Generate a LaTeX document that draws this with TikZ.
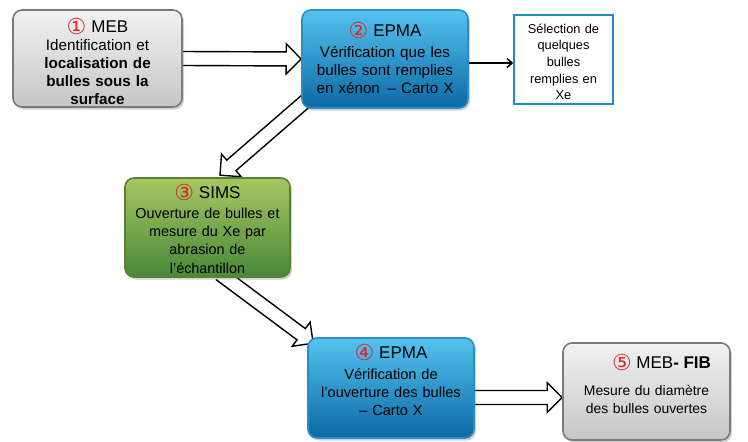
\documentclass[tikz,border=0pt]{standalone}
\usepackage{fontspec}
\setmainfont{Liberation Sans}
\newfontfamily\symfont{DejaVu Sans}
\usetikzlibrary{shadows,calc,arrows.meta}
\pgfdeclarelayer{background}
\pgfsetlayers{background,main}

\definecolor{grayTop}{HTML}{F2F2F2}
\definecolor{grayBot}{HTML}{C6C6C6}
\definecolor{grayBorder}{HTML}{7A7A7A}
\definecolor{blueTop}{HTML}{55C3F0}
\definecolor{blueBot}{HTML}{0B68A4}
\definecolor{blueBorder}{HTML}{2E8CC4}
\definecolor{greenTop}{HTML}{A6C762}
\definecolor{greenBot}{HTML}{478839}
\definecolor{greenBorder}{HTML}{5E7F30}
\definecolor{numRed}{HTML}{E0282A}
\definecolor{selBorder}{HTML}{1F8EC6}

\newcommand\cnum[1]{\smash{\raisebox{-2pt}{\fontsize{22}{22}\symfont\color{numRed}#1}}}
\newcommand\ttl[1]{{\fontsize{17}{18}\selectfont #1}}

\tikzset{
  box/.style={rounded corners=9pt, line width=1.6pt, align=center, inner sep=2pt,
    font=\fontsize{15.2}{18}\selectfont,
    drop shadow={shadow xshift=2pt,shadow yshift=-2.5pt,opacity=0.35}},
  graybox/.style={box, draw=grayBorder, top color=grayTop, bottom color=grayBot},
  bluebox/.style={box, draw=blueBorder, top color=blueTop, bottom color=blueBot},
  greenbox/.style={box, draw=greenBorder, top color=greenTop, bottom color=greenBot},
  selbox/.style={draw=selBorder, line width=1.6pt, fill=white, align=center,
    font=\fontsize{12.8}{16.7}\selectfont, inner sep=2pt},
  harrowline/.style={draw=black, line width=1.4pt, fill=white, line join=miter},
  thinarrow/.style={line width=1.6pt, -{Straight Barb[length=5pt,width=9pt]}}
}

% hollow block arrow from #1 to #2, #3 = name of head-base coordinate
\newcommand\harrow[3]{%
  \coordinate (#3) at ($(#2)!15pt!(#1)$);
  \path[harrowline]
    ($(#1)!7pt!90:(#2)$) -- ($(#3)!7pt!90:(#2)$) -- ($(#3)!15pt!90:(#2)$)
    -- (#2) -- ($(#3)!15pt!-90:(#2)$) -- ($(#3)!7pt!-90:(#2)$) -- ($(#1)!7pt!-90:(#2)$);
}

\begin{document}
\begin{tikzpicture}[x=1pt,y=-1pt]
\useasboundingbox (0,0) rectangle (748,442);

\node[graybox, minimum width=169pt, minimum height=97pt, text width=160pt] (b1) at (97.5,58.5)
  {\rule{0pt}{20pt}\ttl{\cnum{①} MEB}\\Identification et\\\textbf{localisation de}\\\textbf{bulles sous la}\\\textbf{surface}};

\node[bluebox, minimum width=166pt, minimum height=98pt, text width=160pt] (b2) at (385,59)
  {\ttl{\cnum{②} EPMA}\\[3pt]Vérification que les\\bulles sont remplies\\en xénon \,– Carto X};

\node[selbox, minimum width=99pt, minimum height=89pt, text width=94pt] (b3) at (563.5,59.5)
  {\rule{0pt}{14pt}Sélection de\\quelques\\bulles\\remplies en\\Xe};

\node[greenbox, minimum width=165pt, minimum height=99pt, text width=160pt,
      font=\fontsize{14.4}{18.3}\selectfont] (s) at (207.5,227.5)
  {\rule{0pt}{17pt}\ttl{\cnum{③} SIMS}\\[1pt]Ouverture de bulles et\\mesure du Xe par\\abrasion de\\l’échantillon};

\node[bluebox, minimum width=166pt, minimum height=100pt, text width=160pt,
      font=\fontsize{14.6}{18}\selectfont] (b4) at (391,388)
  {\ttl{\cnum{④} EPMA}\\[3pt]Vérification de\\l’ouverture des bulles\\– Carto X\rule[-14pt]{0pt}{0pt}};

\node[graybox, minimum width=167pt, minimum height=97pt, text width=160pt,
      font=\fontsize{13.9}{18}\selectfont] (b5) at (646.5,391.5)
  {\hspace*{30pt}\ttl{\cnum{⑤} MEB\textbf{- FIB}}\\[9pt]Mesure du diamètre\\des bulles ouvertes\rule[-12pt]{0pt}{0pt}};

\coordinate (a2s) at ($(b2.south west)+(7,-10)$);
\coordinate (a2e) at ($(s.north)+(12.5,-2)$);
\coordinate (a3s) at ($(s.south)+(12.5,-4)$);
\coordinate (a3e) at ($(b4.north west)+(6,6)$);
\coordinate (a4s) at ($(b4.east)+(-2,9.5)$);
\coordinate (a4e) at ($(b5.west)+(0,6)$);
\coordinate (t2s) at ($(b2.east)+(0,4)$);

\begin{pgfonlayer}{background}
  \harrow{b1.east}{b2.west}{h1}
  \harrow{a2s}{a2e}{h2}
  \harrow{a3s}{a3e}{h3}
  \harrow{a4s}{a4e}{h4}
\end{pgfonlayer}

\draw[thinarrow] (t2s) -- (t2s -| b3.west);
\end{tikzpicture}
\end{document}
